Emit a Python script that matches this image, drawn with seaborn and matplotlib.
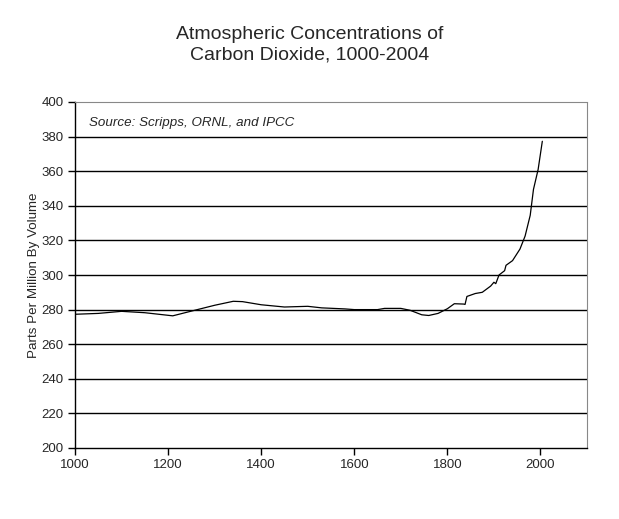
import matplotlib
matplotlib.use("Agg")
import matplotlib.pyplot as plt
import seaborn as sns
import pandas as pd

years = [1000, 1050, 1100, 1150, 1210, 1260, 1300, 1340, 1360, 1400, 1450, 1500,
         1530, 1580, 1600, 1650, 1665, 1700, 1720, 1745, 1760, 1780, 1800, 1815,
         1835, 1838, 1842, 1860, 1875, 1893, 1900, 1904, 1911, 1923, 1926, 1940,
         1956, 1967, 1978, 1985, 1995, 2004]
ppm = [277.3, 277.8, 279.0, 278.2, 276.4, 279.8, 282.5, 284.8, 284.6, 282.8, 281.5, 281.9,
       281.0, 280.4, 280.0, 280.0, 280.7, 280.7, 279.6, 277.0, 276.6, 277.8, 280.5, 283.4,
       283.2, 283.0, 287.6, 289.3, 290.0, 293.6, 295.8, 295.0, 300.0, 302.5, 305.6, 308.3,
       315.0, 322.5, 334.5, 349.5, 361.0, 377.3]
x_ticks = [1000, 1200, 1400, 1600, 1800, 2000]
y_ticks = [200, 220, 240, 260, 280, 300, 320, 340, 360, 380, 400]

title = "Atmospheric Concentrations of\nCarbon Dioxide, 1000-2004"
y_label = "Parts Per Million By Volume"
source = "Source: Scripps, ORNL, and IPCC"

sns.set_style("white")
plt.rcParams['font.family'] = ['Liberation Sans', 'DejaVu Sans']

df = pd.DataFrame({"year": years, "ppm": ppm})

fig = plt.figure(figsize=(6.19, 5.19), dpi=100)
ax = fig.add_axes([75 / 619, 1 - 448 / 519, (587 - 75) / 619, (448 - 102) / 519])

for v in y_ticks[1:-1]:
    ax.axhline(v, color="black", lw=1.0, zorder=1)

sns.lineplot(data=df, x="year", y="ppm", ax=ax, color="black", lw=0.9, zorder=3)

ax.set_xlim(1000, 2100)
ax.set_ylim(200, 400)
ax.set_xticks(x_ticks)
ax.set_yticks(y_ticks)
ax.tick_params(axis="both", direction="out", length=5, width=1, color="black",
               labelsize=9.5, pad=3, left=True, bottom=True)
ax.set_xlabel("")
ax.set_ylabel(y_label, fontsize=9.6, labelpad=1)

for side in ["left", "bottom"]:
    ax.spines[side].set_color("black")
    ax.spines[side].set_linewidth(1.0)
for side in ["top", "right"]:
    ax.spines[side].set_color("#888888")
    ax.spines[side].set_linewidth(0.8)
    ax.spines[side].set_linestyle((0, (1, 1)))

ax.text(0.027, 0.958, source, transform=ax.transAxes, fontsize=9.6,
        style="italic", va="top", ha="left")

fig.text(0.5, 1 - 45 / 519, title, ha="center", va="center", fontsize=14, linespacing=1.25)

fig.savefig("out.png", dpi=100)
